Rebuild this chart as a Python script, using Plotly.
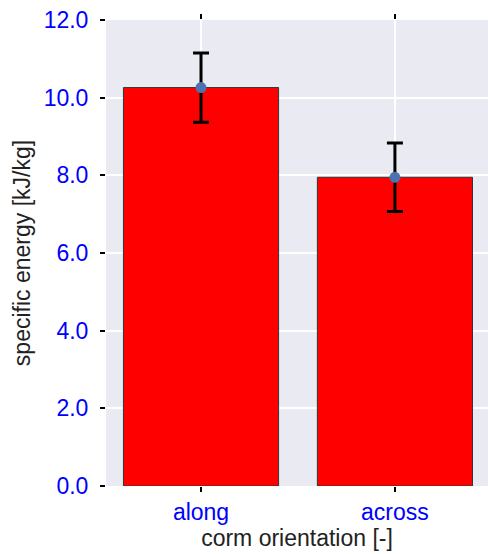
import plotly.graph_objects as go

categories = ["along", "across"]
energy = [10.26, 7.95]
energy_err = [0.89, 0.88]
y_ticks = [0, 2, 4, 6, 8, 10, 12]

fig = go.Figure()
fig.add_trace(go.Bar(
    x=categories, y=energy, width=0.8,
    marker=dict(color="#FF0000", line=dict(color="#333333", width=1)),
    showlegend=False,
))
fig.add_trace(go.Scatter(
    x=categories, y=energy, mode="markers",
    marker=dict(color="#4C72B0", size=11),
    error_y=dict(type="data", array=energy_err, color="black", thickness=3, width=8),
    showlegend=False,
))

fig.update_layout(
    width=488, height=554,
    margin=dict(l=106, r=0, t=20, b=68),
    paper_bgcolor="white", plot_bgcolor="#EAEAF2",
    font=dict(family="Liberation Sans, Arial, sans-serif", color="black"),
)
fig.update_xaxes(
    range=[-0.49, 1.48], automargin=False,
    showgrid=True, gridcolor="white", gridwidth=1.5,
    ticks="outside", ticklen=5, tickwidth=1.5, tickcolor="black",
    mirror="ticks", showline=False,
    tickfont=dict(size=23, color="blue"),
    title=dict(text="corm orientation [-]", font=dict(size=23, color="#222222"), standoff=4),
    zeroline=False,
)
fig.update_yaxes(
    range=[0, 12], tickvals=y_ticks, ticktext=[f"{v:.1f}" for v in y_ticks],
    automargin=False, ticklabelstandoff=7,
    showgrid=True, gridcolor="white", gridwidth=1.5,
    ticks="outside", ticklen=5, tickwidth=1.5, tickcolor="black",
    tickfont=dict(size=23, color="blue"),
    title=dict(text="specific energy [kJ/kg]", font=dict(size=23, color="#222222"), standoff=6),
    zeroline=False, showline=False,
)

fig.write_html(
    "out.html",
    config={"displayModeBar": False},
    post_script="document.body.style.margin='0';document.body.style.padding='0';",
)
